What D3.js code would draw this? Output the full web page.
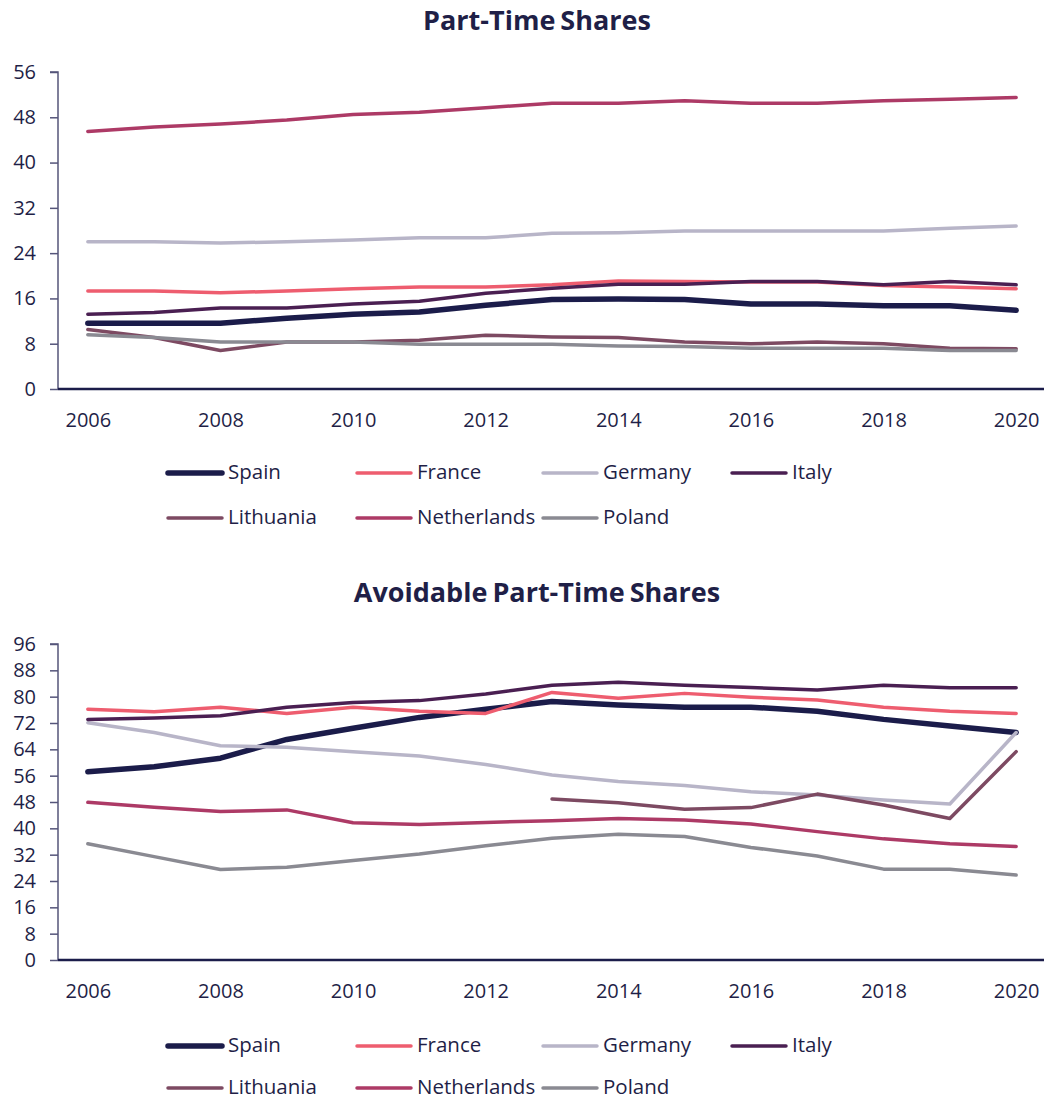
<!DOCTYPE html>
<html><head><meta charset="utf-8">
<script src="https://cdn.jsdelivr.net/npm/d3@7"></script>
<style>
body{margin:0;background:#fff}
text{font-family:"Open Sans","Noto Sans",sans-serif;fill:#1f1f47}
</style>
</head><body><svg id="c" width="1044" height="1100"></svg>
<script>
const years = [2006,2007,2008,2009,2010,2011,2012,2013,2014,2015,2016,2017,2018,2019,2020];
const xTickLabels = [2006,2008,2010,2012,2014,2016,2018,2020];
const countries = ["Spain","France","Germany","Italy","Lithuania","Netherlands","Poland"];
const colors = ["#1b1c4a","#ee5d6f","#b8b5c8","#4a1f52","#7d4a62","#ad3a66","#8a8a92"];

// Part-Time Shares
const ptSpain       = [11.6,11.6,11.6,12.5,13.2,13.6,14.8,15.8,15.9,15.8,15.0,15.0,14.7,14.7,13.9];
const ptFrance      = [17.3,17.3,17.0,17.3,17.7,18.0,18.0,18.4,19.1,19.0,18.9,18.9,18.3,18.0,17.7];
const ptGermany     = [26.0,26.0,25.8,26.0,26.3,26.7,26.7,27.5,27.6,27.9,27.9,27.9,27.9,28.4,28.8];
const ptItaly       = [13.2,13.5,14.3,14.3,15.0,15.5,16.9,17.8,18.5,18.5,19.0,19.0,18.4,19.0,18.4];
const ptLithuania   = [10.5,9.1,6.8,8.3,8.3,8.6,9.5,9.2,9.1,8.3,8.0,8.3,8.0,7.2,7.1];
const ptNetherlands = [45.5,46.3,46.8,47.5,48.5,48.9,49.7,50.5,50.5,50.9,50.5,50.5,50.9,51.2,51.5];
const ptPoland      = [9.6,9.1,8.3,8.3,8.3,7.9,7.9,7.9,7.6,7.5,7.2,7.2,7.2,6.8,6.8];

// Avoidable Part-Time Shares
const avSpain       = [57.2,58.7,61.3,67.0,70.4,73.7,76.2,78.5,77.5,76.8,76.8,75.6,73.1,71.1,69.1];
const avFrance      = [76.2,75.4,76.8,74.9,76.8,75.6,74.9,81.3,79.5,81.0,79.8,79.0,76.8,75.6,74.9];
const avGermany     = [72.1,69.1,65.1,64.6,63.3,62.0,59.4,56.2,54.2,53.0,51.1,50.1,48.6,47.4,69.1];
const avItaly       = [73.1,73.5,74.2,76.8,78.2,78.8,80.8,83.5,84.4,83.5,82.8,82.0,83.5,82.7,82.7];
const avLithuania   = [null,null,null,null,null,null,null,48.9,47.8,45.8,46.3,50.4,47.1,43.0,63.3];
const avNetherlands = [47.9,46.4,45.1,45.6,41.7,41.2,41.8,42.3,43.0,42.5,41.3,39.0,36.8,35.3,34.5];
const avPoland      = [35.3,31.4,27.5,28.2,30.2,32.2,34.7,37.0,38.2,37.5,34.2,31.6,27.6,27.6,25.8];

const yTicksTop = [0,8,16,24,32,40,48,56];
const yTicksBottom = [0,8,16,24,32,40,48,56,64,72,80,88,96];

const svg = d3.select("#c");

function panel(cfg){
  const g = svg.append("g");
  const x = d3.scalePoint().domain(years).range([58,1046]).padding(0.45);
  const y = d3.scaleLinear().domain([0, cfg.yMax]).range([cfg.bottom, cfg.top]);

  g.append("text").attr("x",537).attr("y",cfg.titleY).attr("text-anchor","middle")
    .style("font-size","27px").style("font-weight","700").style("word-spacing","-2px")
    .text(cfg.title);

  // y axis
  const ya = g.append("g").attr("transform","translate(58,0)")
    .call(d3.axisLeft(y).tickValues(cfg.yTicks).tickSize(8).tickPadding(14).tickFormat(d3.format("d")));
  ya.select(".domain").attr("stroke","#55557a").attr("stroke-width",1.5).attr("d",`M-8,${cfg.top}H0V${cfg.bottom}`);
  ya.selectAll(".tick line").attr("stroke","#55557a").attr("stroke-width",1.5);
  ya.selectAll(".tick text").style("font-size","20px").attr("fill","#1f1f47");

  // x axis
  const xa = g.append("g").attr("transform",`translate(0,${cfg.bottom})`)
    .call(d3.axisBottom(x).tickValues(xTickLabels).tickSize(0).tickPadding(24).tickFormat(d3.format("d")));
  xa.select(".domain").attr("stroke","#1b1c4a").attr("stroke-width",2.5).attr("d","M58,0H1044");
  xa.selectAll(".tick text").style("font-size","20px").attr("fill","#1f1f47");

  const line = d3.line().defined(d=>d!=null).x((d,i)=>x(years[i])).y(d=>y(d));
  cfg.series.forEach((s,k)=>{
    g.append("path").attr("d",line(s)).attr("fill","none")
      .attr("stroke",colors[k]).attr("stroke-width",k===0?5.5:3.5)
      .attr("stroke-linejoin","round").attr("stroke-linecap","round");
  });

  // legend
  const colX = [168,357,543,732];
  countries.forEach((c,k)=>{
    const row = Math.floor(k/4), col = k%4;
    const lx = colX[col], ly = cfg.legendY + row*cfg.legendGap;
    g.append("line").attr("x1",lx).attr("x2",lx+54).attr("y1",ly).attr("y2",ly)
      .attr("stroke",colors[k]).attr("stroke-width",k===0?5.5:3.5).attr("stroke-linecap","round");
    g.append("text").attr("x",lx+60).attr("y",ly+6).style("font-size","20.5px").text(c);
  });
}

panel({title:"Part-Time Shares", titleY:30, top:72, bottom:389, yMax:56, yTicks:yTicksTop,
  series:[ptSpain,ptFrance,ptGermany,ptItaly,ptLithuania,ptNetherlands,ptPoland], legendY:473, legendGap:45});
panel({title:"Avoidable Part-Time Shares", titleY:602, top:644, bottom:960, yMax:96, yTicks:yTicksBottom,
  series:[avSpain,avFrance,avGermany,avItaly,avLithuania,avNetherlands,avPoland], legendY:1046, legendGap:42});
</script></body></html>
